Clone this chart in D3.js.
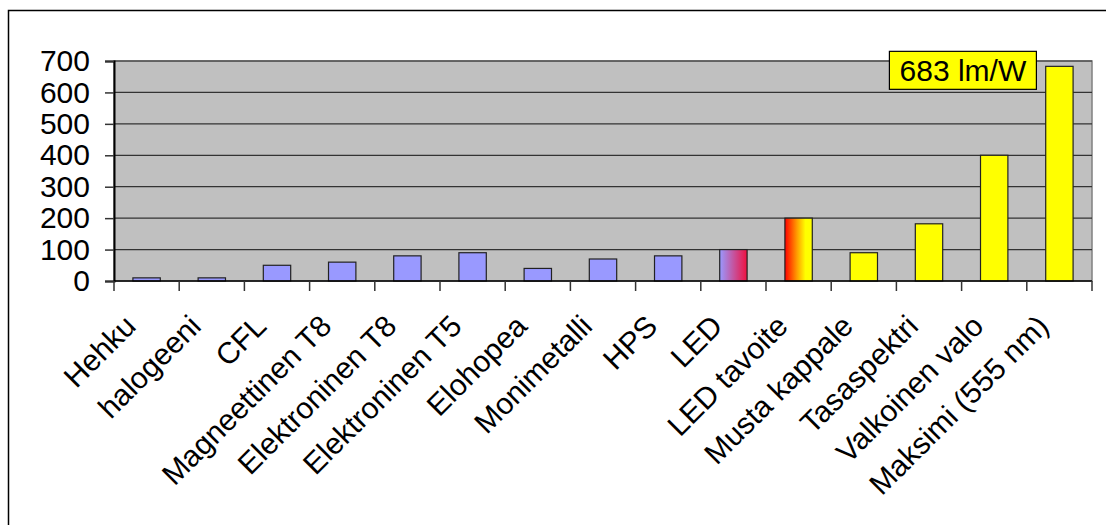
<!DOCTYPE html>
<html>
<head>
<meta charset="utf-8">
<script src="https://cdn.jsdelivr.net/npm/d3@7"></script>
<style>
  html, body { margin: 0; padding: 0; background: #fff; }
  svg { display: block; font-family: "Liberation Sans", Arial, sans-serif; }
</style>
</head>
<body>
<svg id="chart" width="1106" height="525"></svg>
<script>
// Valotehokkuus (lm/W) eri valonlähteille
const categories = [
  "Hehku", "halogeeni", "CFL", "Magneettinen T8", "Elektroninen T8",
  "Elektroninen T5", "Elohopea", "Monimetalli", "HPS", "LED",
  "LED tavoite", "Musta kappale", "Tasaspektri", "Valkoinen valo", "Maksimi (555 nm)"
];
const values = [10, 10, 50, 60, 80, 90, 40, 70, 80, 100, 200, 90, 182, 400, 683];
// lähteen tyyppi: nykyinen lamppu, LED, LED-tavoite tai teoreettinen raja
const kinds = [
  "lamppu", "lamppu", "lamppu", "lamppu", "lamppu",
  "lamppu", "lamppu", "lamppu", "lamppu", "led",
  "tavoite", "teoria", "teoria", "teoria", "teoria"
];
const yTicks = [0, 100, 200, 300, 400, 500, 600, 700];
const maxLabel = "683 lm/W";
const maxIndex = 14;

const svg = d3.select("#chart");

// kehys
svg.append("rect")
  .attr("x", 8.5).attr("y", 10.5)
  .attr("width", 1200).attr("height", 600)
  .attr("fill", "#fff").attr("stroke", "#000").attr("stroke-width", 1.5);

const plot = { left: 114, right: 1092, top: 61, bottom: 281 };

const x = d3.scaleBand()
  .domain(categories)
  .range([plot.left, plot.right])
  .paddingInner(0).paddingOuter(0);

const y = d3.scaleLinear()
  .domain([0, 700])
  .range([plot.bottom, plot.top]);

// liukuvärit
const defs = svg.append("defs");
const gLed = defs.append("linearGradient").attr("id", "gLed")
  .attr("x1", "0%").attr("x2", "100%").attr("y1", "0%").attr("y2", "0%");
gLed.append("stop").attr("offset", "0%").attr("stop-color", "#9999ff");
gLed.append("stop").attr("offset", "100%").attr("stop-color", "#f01040");
const gTav = defs.append("linearGradient").attr("id", "gTav")
  .attr("x1", "0%").attr("x2", "100%").attr("y1", "0%").attr("y2", "0%");
gTav.append("stop").attr("offset", "0%").attr("stop-color", "#ff0000");
gTav.append("stop").attr("offset", "45%").attr("stop-color", "#ffa000");
gTav.append("stop").attr("offset", "75%").attr("stop-color", "#ffff00");
gTav.append("stop").attr("offset", "100%").attr("stop-color", "#ffff00");

const fillFor = {
  lamppu: "#9999ff",
  led: "url(#gLed)",
  tavoite: "url(#gTav)",
  teoria: "#ffff00"
};

// piirtoalue
svg.append("rect")
  .attr("x", plot.left).attr("y", plot.top)
  .attr("width", plot.right - plot.left).attr("height", plot.bottom - plot.top)
  .attr("fill", "#c0c0c0").attr("stroke", "#808080").attr("stroke-width", 1.5);

// vaakaviivat
svg.append("g")
  .selectAll("line")
  .data(yTicks.filter(d => d > 0))
  .join("line")
  .attr("x1", plot.left).attr("x2", plot.right)
  .attr("y1", d => y(d)).attr("y2", d => y(d))
  .attr("stroke", "#333").attr("stroke-width", 1.2);

// pylväät
const barW = x.bandwidth() * 0.42;
svg.append("g")
  .selectAll("rect")
  .data(categories)
  .join("rect")
  .attr("x", d => x(d) + (x.bandwidth() - barW) / 2)
  .attr("y", (d, i) => y(values[i]))
  .attr("width", barW)
  .attr("height", (d, i) => y(0) - y(values[i]))
  .attr("fill", (d, i) => fillFor[kinds[i]])
  .attr("stroke", "#222").attr("stroke-width", 1.2);

// y-akseli
const yAxis = d3.axisLeft(y).tickValues(yTicks).tickSize(9).tickPadding(15);
const gy = svg.append("g")
  .attr("transform", `translate(${plot.left},0)`)
  .call(yAxis);
gy.select(".domain").attr("stroke", "#000").attr("stroke-width", 2);
gy.selectAll(".tick line").attr("stroke", "#333").attr("stroke-width", 1.5);
gy.selectAll(".tick text")
  .attr("fill", "#000")
  .style("font-size", "30px")
  .style("font-family", "'Liberation Sans', Arial, sans-serif");

// x-akseli
svg.append("line")
  .attr("x1", plot.left).attr("x2", plot.right)
  .attr("y1", plot.bottom).attr("y2", plot.bottom)
  .attr("stroke", "#000").attr("stroke-width", 1.5);

const bounds = categories.map(d => x(d)).concat([plot.right]);
svg.append("g")
  .selectAll("line")
  .data(bounds)
  .join("line")
  .attr("x1", d => d).attr("x2", d => d)
  .attr("y1", plot.bottom).attr("y2", plot.bottom + 10)
  .attr("stroke", "#333").attr("stroke-width", 1.5);

svg.append("g")
  .selectAll("text")
  .data(categories)
  .join("text")
  .attr("transform", d => `translate(${x(d) + x.bandwidth() / 2 - 9},${plot.bottom + 47}) rotate(-45)`)
  .attr("text-anchor", "end")
  .attr("fill", "#000")
  .style("font-size", "30px")
  .text(d => d);

// maksimiarvon selite
const boxW = 147, boxH = 38;
const boxRight = x(categories[maxIndex]) + x.bandwidth() / 2 - 23;
const boxCy = y(values[maxIndex]) + 4;
const lab = svg.append("g");
lab.append("rect")
  .attr("x", boxRight - boxW).attr("y", boxCy - boxH / 2)
  .attr("width", boxW).attr("height", boxH)
  .attr("fill", "#ffff00").attr("stroke", "#000").attr("stroke-width", 1.2);
lab.append("text")
  .attr("x", boxRight - boxW / 2).attr("y", boxCy)
  .attr("text-anchor", "middle").attr("dominant-baseline", "central")
  .attr("fill", "#000")
  .style("font-size", "30px")
  .text(maxLabel);
</script>
</body>
</html>
